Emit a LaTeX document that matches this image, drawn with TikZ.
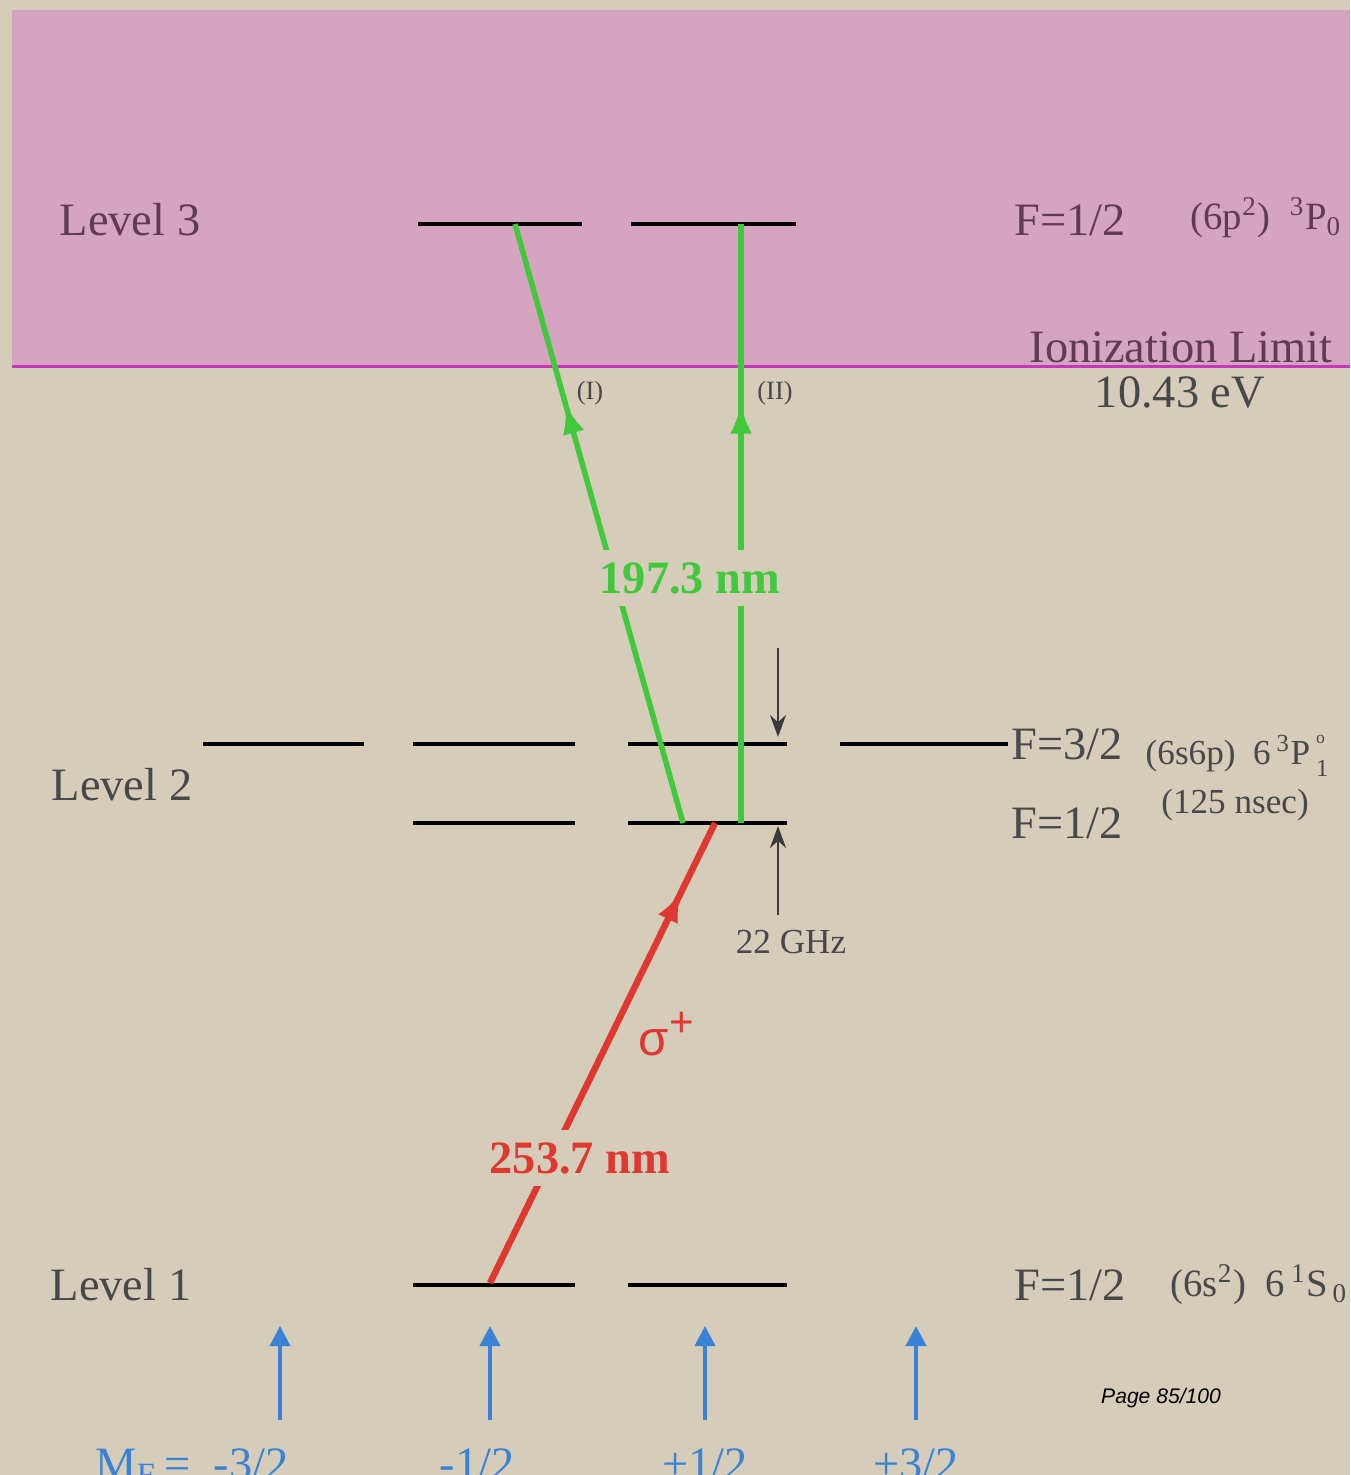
\documentclass[tikz,border=0pt]{standalone}
\usepackage{fontspec}
\setmainfont{Liberation Serif}
\setsansfont{Liberation Sans}
\usetikzlibrary{arrows.meta,decorations.markings}
\definecolor{bgtan}{RGB}{213,205,186}
\definecolor{ionpink}{RGB}{212,164,192}
\definecolor{ionline}{RGB}{200,55,184}
\definecolor{txtgray}{RGB}{72,72,72}
\definecolor{txtpurple}{RGB}{98,58,86}
\definecolor{lasgreen}{RGB}{66,200,60}
\definecolor{lasred}{RGB}{222,56,48}
\definecolor{mfblue}{RGB}{58,130,214}

\begin{document}
\begin{tikzpicture}[x=0.1mm,y=-0.1mm,
  lvl/.style={line width=0.45mm},
  txt/.style={font=\fontsize{13.2}{15}\selectfont,text=txtgray,inner sep=0pt},
  sm/.style={font=\fontsize{10}{12}\selectfont,text=txtgray,inner sep=0pt},
  md/.style={font=\fontsize{11}{13}\selectfont,text=txtgray,inner sep=0pt},
  tn/.style={font=\fontsize{7.5}{9}\selectfont,text=txtgray,inner sep=0pt},
  beam/.style={line width=0.55mm,postaction={decorate}},
  midtip/.style={decoration={markings,
      mark=at position #1 with {\arrow{Latex[length=3mm,width=2.2mm]}}}},
  mfarr/.style={mfblue,line width=0.4mm,-{Triangle[length=2mm,width=2mm]}},
  gap/.style={fill=bgtan,inner sep=1.2mm},
  thin/.style={txtgray!80!black,line width=0.2mm,-{Stealth[length=2.2mm,width=1.6mm]}}]
  \useasboundingbox (0,0) rectangle (1350,1475);
  \clip (0,0) rectangle (1350,1475);
  % backgrounds
  \fill[bgtan] (0,0) rectangle (1350,1475);
  \fill[ionpink] (12,10) rectangle (1350,367);
  \draw[ionline,line width=0.3mm] (12,367) -- (1350,367);

  % level 3
  \draw[lvl] (418,224) -- (582,224);
  \draw[lvl] (631,224) -- (796,224);
  % level 2
  \foreach \xa/\xb in {203/364,413/575,628/787} \draw[lvl] (\xa,744) -- (\xb,744);
  \draw[lvl,line width=0.35mm] (840,744) -- (1008,744);
  \foreach \xa/\xb in {413/575,628/787} \draw[lvl] (\xa,823) -- (\xb,823);
  % level 1
  \foreach \xa/\xb in {413/575,628/787} \draw[lvl] (\xa,1285) -- (\xb,1285);

  % laser beams
  \coordinate (rs)   at (490,1283);
  \coordinate (re)   at (715,823);
  \coordinate (gIs)  at (683,823);
  \coordinate (gIe)  at (515,224);
  \coordinate (gIIs) at (741,823);
  \coordinate (gIIe) at (741,224);
  \draw[beam,lasred,line width=0.65mm,midtip=0.85] (rs) -- (re);
  \draw[beam,lasgreen,midtip=0.70] (gIs) -- (gIe);
  \draw[beam,lasgreen,midtip=0.70] (gIIs) -- (gIIe);

  % 22 GHz splitting
  \coordinate (hfa) at (778,648);
  \coordinate (hfb) at (778,737);
  \coordinate (hfc) at (778,915);
  \coordinate (hfd) at (778,826);
  \draw[thin] (hfa) -- (hfb);
  \draw[thin] (hfc) -- (hfd);
  \node[sm] (ghz) at (791,942) {22 GHz};

  % beam labels
  \node[gap,text=lasgreen,font=\fontsize{13.2}{15}\selectfont\bfseries] (wlg) at (690,578) {197.3 nm};
  \node[gap,text=lasred,font=\fontsize{13.2}{15}\selectfont\bfseries] (wlr) at (580,1158) {253.7 nm};
  \node[text=lasred,font=\fontsize{14}{15}\selectfont\sffamily,inner sep=0pt] (sig) at (667,1034) {σ\textsuperscript{\large +}};
  \node[tn] (pI)  at (590,393) {(I)};
  \node[tn] (pII) at (775,393) {(II)};

  % left labels
  \node[txt,text=txtpurple] (l3) at (130,220) {Level 3};
  \node[txt] (l2) at (122,785) {Level 2};
  \node[txt] (l1) at (121,1285) {Level 1};

  % right labels
  \node[txt,text=txtpurple] (f3) at (1070,220) {F=1/2};
  \node[md,text=txtpurple,anchor=west] (t3) at (1190,218) {(6p\textsuperscript{2})\enspace\textsuperscript{3}P\textsubscript{0}};
  \node[txt,text=txtpurple] (ion) at (1181,347) {Ionization Limit};
  \node[txt] (iev) at (1180,392) {10.43 eV};
  \node[txt] (f2a) at (1067,744) {F=3/2};
  \node[sm,anchor=west] (t2) at (1145,756) {(6s6p)\enspace 6\,\textsuperscript{3}P\rlap{\,\raisebox{0.6em}{\tiny o}}\,\raisebox{-0.35em}{\scriptsize 1}};
  \node[sm] (tau) at (1235,805) {(125 nsec)};
  \node[txt] (f2b) at (1067,823) {F=1/2};
  \node[txt] (f1) at (1070,1285) {F=1/2};
  \node[md,anchor=west] (t1) at (1170,1285) {(6s\textsuperscript{2})\enspace 6\,\textsuperscript{1}S\textsubscript{\,0}};

  % m_F arrows and labels
  \foreach \x/\n in {280/a,490/b,705/c,916/d} {
    \coordinate (mf\n0) at (\x,1420);
    \coordinate (mf\n1) at (\x,1326);
    \draw[mfarr] (mf\n0) -- (mf\n1);
  }
  \node[txt,text=mfblue,anchor=base west] (mfa) at (95,1479) {M\textsubscript{F}\,=\enspace -3/2};
  \node[txt,text=mfblue,anchor=base] (mfb) at (477,1479) {-1/2};
  \node[txt,text=mfblue,anchor=base] (mfc) at (705,1479) {+1/2};
  \node[txt,text=mfblue,anchor=base] (mfd) at (916,1479) {+3/2};

  \node[font=\fontsize{6}{7}\selectfont\sffamily\itshape,inner sep=0pt] (pg) at (1161,1398) {Page 85/100};
\end{tikzpicture}
\end{document}
